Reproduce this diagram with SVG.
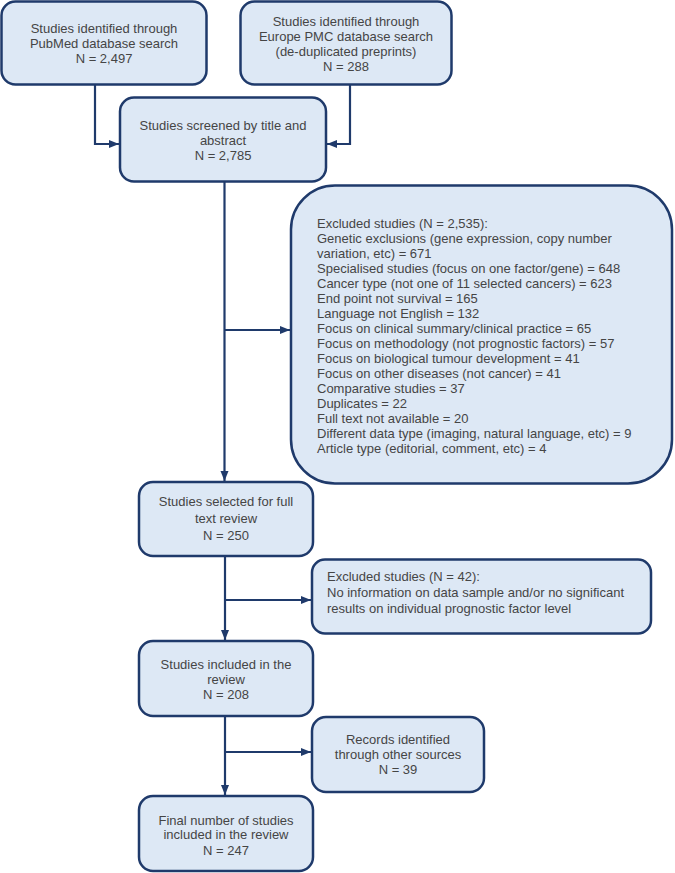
<svg xmlns="http://www.w3.org/2000/svg" width="675" height="873" viewBox="0 0 675 873">
<defs>
<style>
.box{fill:#dde8f5;stroke:#1f3a6b;stroke-width:2.5}
.t{font-family:"Liberation Sans",Arial,sans-serif;font-size:13px;fill:#454545}
.c{text-anchor:middle}
.conn{fill:none;stroke:#1f3a6b;stroke-width:2.2}
</style>
<marker id="ah" markerUnits="userSpaceOnUse" markerWidth="10" markerHeight="10" viewBox="0 0 10 10" refX="10" refY="5" orient="auto">
<path d="M0,1 L10,5 L0,9 Z" fill="#1f3a6b"/>
</marker>
</defs>
<rect width="675" height="873" fill="#ffffff"/>
<g id="connectors">
<path class="conn" d="M95,85 V144 H119" marker-end="url(#ah)"/>
<path class="conn" d="M350,85 V144 H327" marker-end="url(#ah)"/>
<path class="conn" d="M224.5,182 V481" marker-end="url(#ah)"/>
<path class="conn" d="M224.5,330 H290" marker-end="url(#ah)"/>
<path class="conn" d="M225,556 V640" marker-end="url(#ah)"/>
<path class="conn" d="M225,600 H311" marker-end="url(#ah)"/>
<path class="conn" d="M225,716 V795" marker-end="url(#ah)"/>
<path class="conn" d="M225,752 H311" marker-end="url(#ah)"/>
</g>
<g id="pubmed">
<rect class="box" x="1.5" y="1.5" width="205" height="83" rx="14"/>
<text class="t c" x="104" y="33">Studies identified through</text>
<text class="t c" x="104" y="48">PubMed database search</text>
<text class="t c" x="104" y="63">N = 2,497</text>
</g>
<g id="europepmc">
<rect class="box" x="240.5" y="1.5" width="211" height="83" rx="14"/>
<text class="t c" x="346" y="26">Studies identified through</text>
<text class="t c" x="346" y="41">Europe PMC database search</text>
<text class="t c" x="346" y="56">(de-duplicated preprints)</text>
<text class="t c" x="346" y="71">N = 288</text>
</g>
<g id="screened">
<rect class="box" x="120" y="97.5" width="206" height="84" rx="14"/>
<text class="t c" x="223" y="130">Studies screened by title and</text>
<text class="t c" x="223" y="145">abstract</text>
<text class="t c" x="223" y="160">N = 2,785</text>
</g>
<g id="excluded1">
<rect class="box" x="291" y="185.5" width="381" height="298" rx="44"/>
<text class="t" x="317" y="228">Excluded studies (N = 2,535):</text>
<text class="t" x="317" y="243">Genetic exclusions (gene expression, copy number</text>
<text class="t" x="317" y="258">variation, etc) = 671</text>
<text class="t" x="317" y="273">Specialised studies (focus on one factor/gene) = 648</text>
<text class="t" x="317" y="288">Cancer type (not one of 11 selected cancers) = 623</text>
<text class="t" x="317" y="303">End point not survival = 165</text>
<text class="t" x="317" y="318">Language not English = 132</text>
<text class="t" x="317" y="333">Focus on clinical summary/clinical practice = 65</text>
<text class="t" x="317" y="348">Focus on methodology (not prognostic factors) = 57</text>
<text class="t" x="317" y="363">Focus on biological tumour development = 41</text>
<text class="t" x="317" y="378">Focus on other diseases (not cancer) = 41</text>
<text class="t" x="317" y="393">Comparative studies = 37</text>
<text class="t" x="317" y="408">Duplicates = 22</text>
<text class="t" x="317" y="423">Full text not available = 20</text>
<text class="t" x="317" y="438">Different data type (imaging, natural language, etc) = 9</text>
<text class="t" x="317" y="453">Article type (editorial, comment, etc) = 4</text>
</g>
<g id="selected">
<rect class="box" x="139" y="482" width="174" height="74" rx="14"/>
<text class="t c" x="226" y="506">Studies selected for full</text>
<text class="t c" x="226" y="523">text review</text>
<text class="t c" x="226" y="540">N = 250</text>
</g>
<g id="excluded2">
<rect class="box" x="312" y="559.5" width="339" height="74" rx="13"/>
<text class="t" x="327" y="580.5">Excluded studies (N = 42):</text>
<text class="t" x="327" y="596.5">No information on data sample and/or no significant</text>
<text class="t" x="327" y="612.5">results on individual prognostic factor level</text>
</g>
<g id="included">
<rect class="box" x="139" y="641" width="174" height="75" rx="14"/>
<text class="t c" x="226" y="668.5">Studies included in the</text>
<text class="t c" x="226" y="683.5">review</text>
<text class="t c" x="226" y="698.5">N = 208</text>
</g>
<g id="records">
<rect class="box" x="312" y="717" width="172" height="75" rx="14"/>
<text class="t c" x="398" y="744">Records identified</text>
<text class="t c" x="398" y="759">through other sources</text>
<text class="t c" x="398" y="774">N = 39</text>
</g>
<g id="final">
<rect class="box" x="139" y="796" width="174" height="75" rx="14"/>
<text class="t c" x="226" y="824.5">Final number of studies</text>
<text class="t c" x="226" y="839">included in the review</text>
<text class="t c" x="226" y="854.5">N = 247</text>
</g>
</svg>
